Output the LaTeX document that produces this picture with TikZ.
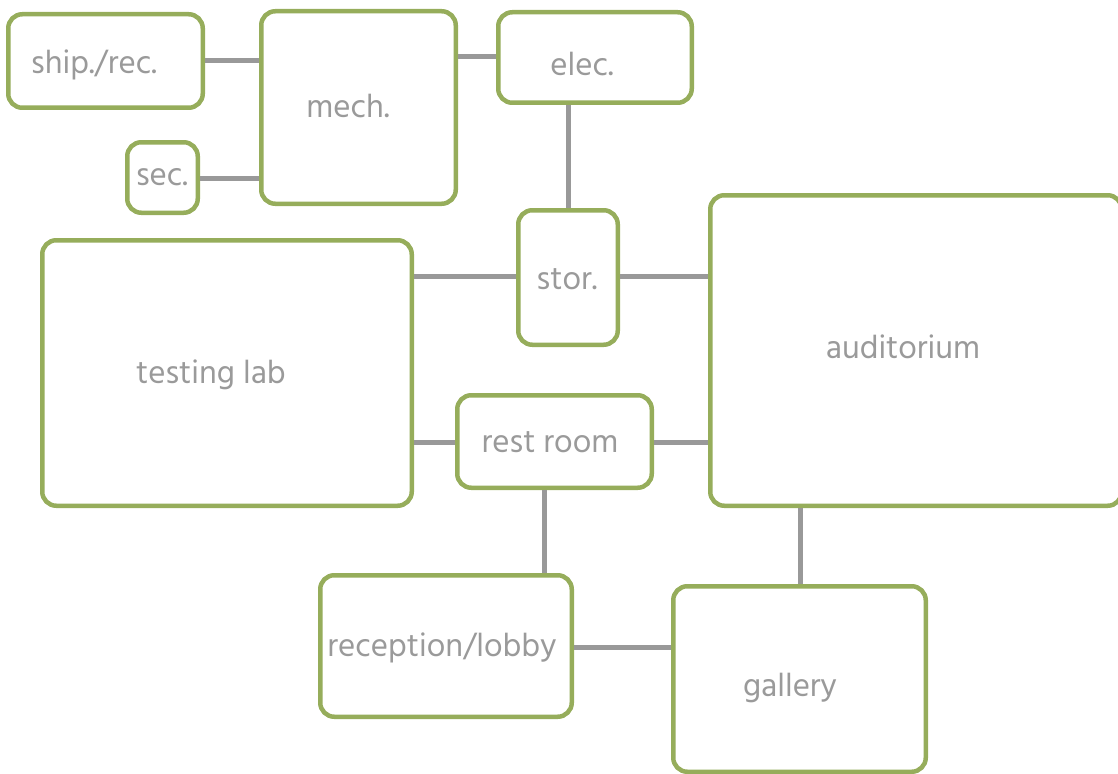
\documentclass[tikz,border=0pt]{standalone}
\usepackage{fontspec}
\setmainfont{Hind Madurai}
\definecolor{roomgreen}{HTML}{96AD5B}
\definecolor{linkgray}{HTML}{999999}
\definecolor{labelgray}{HTML}{9A9A9A}
\begin{document}
\begin{tikzpicture}[x=1pt,y=-1pt,
  room/.style={draw=roomgreen, line width=4.5pt, rounded corners=14pt, fill=white, inner sep=0pt},
  lbl/.style={text=labelgray, font=\fontsize{33}{38}\selectfont, inner sep=0pt},
  link/.style={draw=linkgray, line width=5pt}]
\useasboundingbox (0,0) rectangle (1118,773);
\clip (0,0) rectangle (1118,773);
% rooms: name, centre x, centre y, outer width, outer height
\newcommand{\room}[5]{\node[room, minimum width=#4-4.5, minimum height=#5-4.5] (#1) at (#2,#3) {};}
\room{ship}{105.5}{61}{199}{98}
\room{sec}{162.5}{177.5}{75}{75}
\room{mech}{358.5}{107.5}{199}{197}
\room{elec}{595}{57.5}{198}{95}
\room{stor}{568}{277.5}{104}{139}
\room{lab}{227}{373}{374}{270}
\room{aud}{916}{350.5}{416}{315}
\room{rest}{554.5}{441.5}{199}{97}
\room{recep}{446}{646}{256}{146}
\room{gal}{799.5}{679}{257}{190}
% corridors between rooms
\draw[link] (ship.east |- 0,61) -- (mech.west |- 0,61);
\draw[link] (sec.east |- 0,178) -- (mech.west |- 0,178);
\draw[link] (mech.east |- 0,57) -- (elec.west |- 0,57);
\draw[link] (elec.south -| 568,0) -- (stor.north -| 568,0);
\draw[link] (lab.east |- 0,276) -- (stor.west |- 0,276);
\draw[link] (stor.east |- 0,276) -- (aud.west |- 0,276);
\draw[link] (lab.east |- 0,442) -- (rest.west |- 0,442);
\draw[link] (rest.east |- 0,442) -- (aud.west |- 0,442);
\draw[link] (rest.south -| 544,0) -- (recep.north -| 544,0);
\draw[link] (aud.south -| 800,0) -- (gal.north -| 800,0);
\draw[link] (recep.east |- 0,647) -- (gal.west |- 0,647);
% room names
\node[lbl] (tship) at (94,65) {ship./rec.};
\node[lbl] (tsec) at (162,177) {sec.};
\node[lbl] (tmech) at (348,106) {mech.};
\node[lbl] (telec) at (582,64) {elec.};
\node[lbl] (tstor) at (567,279) {stor.};
\node[lbl] (tlab) at (211,375) {testing lab};
\node[lbl] (taud) at (903,347) {auditorium};
\node[lbl] (trest) at (550,442) {rest room};
\node[lbl] (trecep) at (442,648) {reception/lobby};
\node[lbl] (tgal) at (790,688) {gallery};
\end{tikzpicture}
\end{document}
